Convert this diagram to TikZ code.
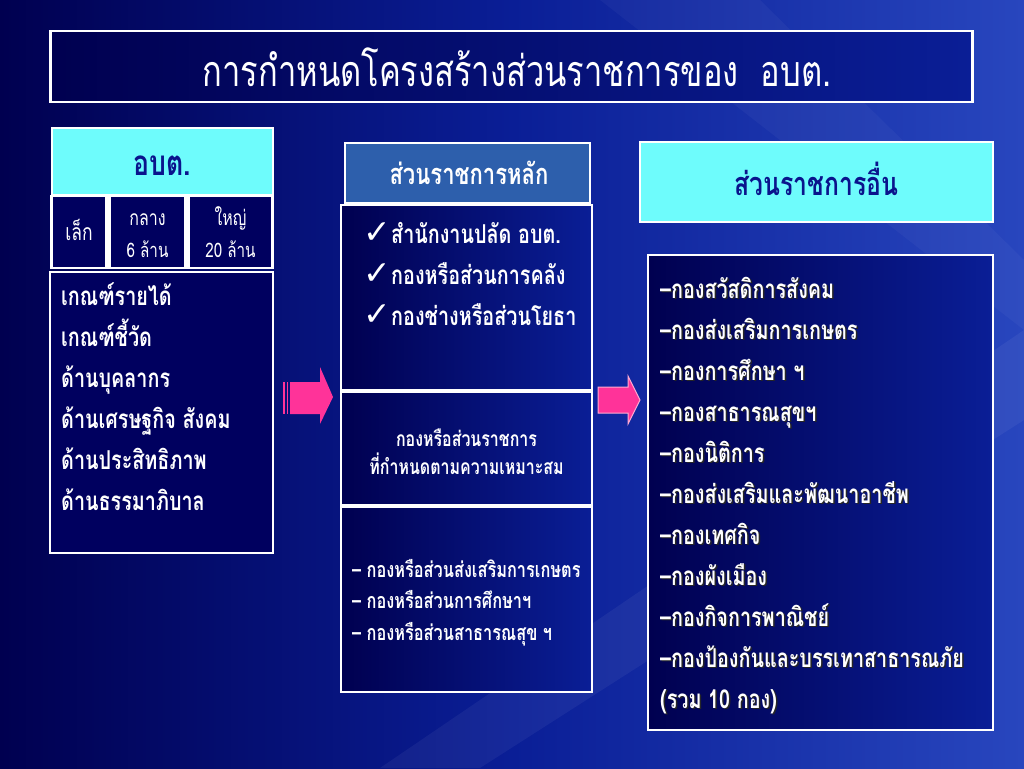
\documentclass[tikz,border=0pt]{standalone}
\usepackage{fontspec}
\newfontfamily\thai[Script=Thai,FakeStretch=0.76]{Loma}
\newfontfamily\sym{DejaVu Sans}
\usetikzlibrary{shadings}
\definecolor{bgdark}{RGB}{0,0,80}
\definecolor{bgmid}{RGB}{10,30,150}
\definecolor{bglight}{RGB}{40,70,190}
\definecolor{cyanbox}{RGB}{110,252,252}
\definecolor{navytext}{RGB}{10,20,140}
\definecolor{cellfill}{RGB}{0,0,95}
\definecolor{steel}{RGB}{45,95,172}
\definecolor{pinkarrow}{RGB}{255,51,153}
\definecolor{pinklight}{RGB}{255,170,210}
\tikzset{
  whitebox/.style={draw=white, line width=2.5pt, rectangle, inner sep=0pt},
  darkbox/.style={whitebox, left color=bgdark, right color=bgmid},
  cyanb/.style={whitebox, fill=cyanbox},
  cellb/.style={whitebox, fill=cellfill},
  wtxt/.style={text=white, font=\thai\bfseries, inner sep=0pt, anchor=base},
  ntxt/.style={text=navytext, font=\thai\bfseries, inner sep=0pt, anchor=base},
  shadowtxt/.style={text=black!85, font=\thai\bfseries, inner sep=0pt, anchor=base west},
  rtxt/.style={text=white, font=\thai\bfseries, inner sep=0pt, anchor=base west},
}
\begin{document}
\begin{tikzpicture}[x=1pt,y=-1pt]
\useasboundingbox (0,0) rectangle (1024,768);
% background
\shade[left color=bgdark, right color=bglight, middle color=bgmid] (0,0) rectangle (1024,768);
\fill[white, opacity=0.05] (380,768) -- (1024,330) -- (1024,420) -- (480,768) -- cycle;
\fill[white, opacity=0.035] (600,0) -- (760,0) -- (1024,260) -- (1024,330) -- cycle;

% title
\node[darkbox, minimum width=922, minimum height=71] (title) at (511.5,66.5) {};
\node[text=white, font=\thai\fontsize{43}{45}\selectfont, inner sep=0pt, anchor=base] (titletxt) at (517,86) {การกำหนดโครงสร้างส่วนราชการของ\ \ อบต.};

% left column
\node[cyanb, minimum width=221, minimum height=67] (obt) at (162.5,161.5) {};
\node[ntxt, font=\thai\bfseries\fontsize{35}{37}\selectfont] (obttxt) at (162.5,175) {อบต.};
\node[cellb, minimum width=55, minimum height=72] (small) at (79,232) {};
\node[cellb, minimum width=76, minimum height=72] (medium) at (147.5,232) {};
\node[cellb, minimum width=84, minimum height=72] (large) at (230.5,232) {};
\node[wtxt, font=\thai\fontsize{23}{25}\selectfont] (smalltxt) at (79,240) {เล็ก};
\node[wtxt, font=\thai\fontsize{21}{23}\selectfont] (medtxt1) at (147.5,225) {กลาง};
\node[wtxt, font=\thai\fontsize{20}{23}\selectfont] (medtxt2) at (147.5,257) {6 ล้าน};
\node[wtxt, font=\thai\fontsize{21}{23}\selectfont] (largetxt1) at (230.5,225) {ใหญ่};
\node[wtxt, font=\thai\fontsize{20}{23}\selectfont] (largetxt2) at (230.5,257) {20 ล้าน};

\node[whitebox, fill=cellfill, minimum width=223, minimum height=281] (criteria) at (161.5,412.5) {};
\foreach \t [count=\i] in {เกณฑ์รายได้, เกณฑ์ชี้วัด, ด้านบุคลากร, ด้านเศรษฐกิจ สังคม, ด้านประสิทธิภาพ, ด้านธรรมาภิบาล}{
  \node[rtxt, font=\thai\bfseries\fontsize{26}{28}\selectfont] (crit\i) at (61,{305+41*(\i-1)}) {\t};
}

% arrow 1
\fill[pinkarrow] (290,382) -- (320,382) -- (320,367) -- (333,397) -- (320,424) -- (320,414) -- (290,414) -- cycle;
\foreach \xx in {283,286.5}{ \fill[pinkarrow] (\xx,382) rectangle ++(1.6,32); }

% middle column
\node[whitebox, fill=steel, minimum width=245, minimum height=60] (mainhdr) at (467.5,173) {};
\node[wtxt, font=\thai\bfseries\fontsize{29}{31}\selectfont] (mainhdrtxt) at (469,184) {ส่วนราชการหลัก};
\node[darkbox, minimum width=251, minimum height=185] (mainbox) at (466.5,297.5) {};
\foreach \t [count=\i] in {สำนักงานปลัด อบต., กองหรือส่วนการคลัง, กองช่างหรือส่วนโยธา}{
  \node[rtxt, font=\thai\bfseries\fontsize{26}{28}\selectfont] (chk\i) at (391,{243+41*(\i-1)}) {\t};
  \node[text=white, inner sep=0pt, anchor=base east, font=\sym\fontsize{33}{35}\selectfont] (chkmark\i) at (391,{243+41*(\i-1)}) {✓};
}
\node[darkbox, minimum width=251, minimum height=113] (optbox) at (466.5,448.5) {};
\node[wtxt, font=\thai\bfseries\fontsize{21}{23}\selectfont] (opt1) at (466.5,446) {กองหรือส่วนราชการ};
\node[wtxt, font=\thai\bfseries\fontsize{21}{23}\selectfont] (opt2) at (466.5,474) {ที่กำหนดตามความเหมาะสม};
\node[darkbox, minimum width=251, minimum height=185] (exbox) at (466.5,599.5) {};
\foreach \t/\yy [count=\i] in {– กองหรือส่วนส่งเสริมการเกษตร/577, – กองหรือส่วนการศึกษาฯ/608, – กองหรือส่วนสาธารณสุข ฯ/640}{
  \node[rtxt, font=\thai\bfseries\fontsize{21.5}{23}\selectfont] (ex\i) at (352,\yy) {\t};
}

% arrow 2
\fill[pinkarrow, draw=pinklight, line width=1pt] (598,387) -- (628,387) -- (628,376) -- (640,400) -- (628,424) -- (628,413) -- (598,413) -- cycle;

% right column
\node[cyanb, minimum width=353, minimum height=80] (otherhdr) at (816.5,182) {};
\node[ntxt, font=\thai\bfseries\fontsize{32.5}{34}\selectfont] (otherhdrtxt) at (816.5,195) {ส่วนราชการอื่น};
\node[darkbox, minimum width=345, minimum height=475] (otherbox) at (820.5,492.5) {};
\foreach \t [count=\i] in {–กองสวัสดิการสังคม, –กองส่งเสริมการเกษตร, –กองการศึกษา ฯ, –กองสาธารณสุขฯ, –กองนิติการ, –กองส่งเสริมและพัฒนาอาชีพ, –กองเทศกิจ, –กองผังเมือง, –กองกิจการพาณิชย์, –กองป้องกันและบรรเทาสาธารณภัย, (รวม 10 กอง)}{
  \node[shadowtxt, font=\thai\bfseries\fontsize{26}{28}\selectfont] (othsh\i) at (661.5,{299.5+41*(\i-1)}) {\t};
  \node[rtxt, font=\thai\bfseries\fontsize{26}{28}\selectfont] (oth\i) at (660,{298+41*(\i-1)}) {\t};
}
\end{tikzpicture}
\end{document}
